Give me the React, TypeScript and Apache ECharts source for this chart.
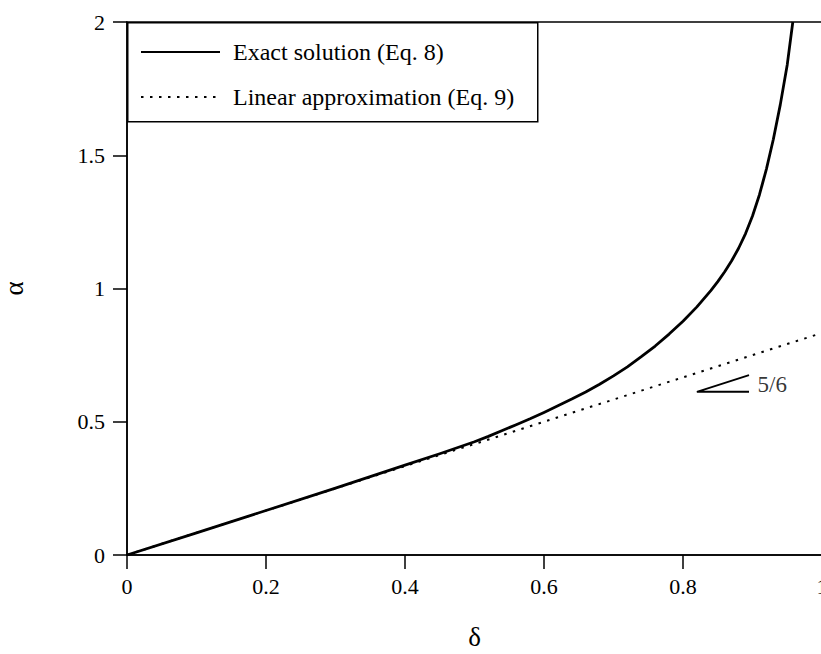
import React, { useEffect, useRef } from "react";
import * as echarts from "echarts";

// δ values and the exact solution α(δ) of Eq. 8
const exactDelta = [
  0, 0.1, 0.2, 0.3, 0.4, 0.45, 0.5, 0.52, 0.54, 0.56, 0.58, 0.6, 0.62, 0.64, 0.66, 0.68, 0.7,
  0.72, 0.74, 0.76, 0.78, 0.8, 0.82, 0.84, 0.85, 0.86, 0.87, 0.88, 0.89, 0.9, 0.91, 0.92, 0.93,
  0.94, 0.95, 0.958,
];
const exactAlpha = [
  0, 0.083, 0.167, 0.251, 0.337, 0.38, 0.425, 0.445, 0.467, 0.489, 0.511, 0.535, 0.56, 0.585,
  0.612, 0.641, 0.672, 0.706, 0.744, 0.784, 0.829, 0.877, 0.931, 0.992, 1.026, 1.063, 1.104,
  1.151, 1.206, 1.272, 1.352, 1.448, 1.56, 1.69, 1.84, 2.0,
];

// Linear approximation of Eq. 9: α = 5/6 δ
const linearDelta = [0, 1];
const linearAlpha = [0, 0.8333];

// Slope marker showing the 5/6 gradient
const slopeDelta = [0.895, 0.82, 0.895];
const slopeAlpha = [0.675, 0.6125, 0.6125];
const slopeLabel = "5/6";
const slopeLabelAt = [0.9, 0.64];

const xTicks = { min: 0, max: 1, interval: 0.2 };
const yTicks = { min: 0, max: 2, interval: 0.5 };

const seriesNames = ["Exact solution (Eq. 8)", "Linear approximation (Eq. 9)"];

const FONT = "Liberation Serif";

const zip = (xs: number[], ys: number[]) => xs.map((x, i) => [x, ys[i]]);

export default function App() {
  const ref = useRef<HTMLDivElement>(null);

  useEffect(() => {
    if (!ref.current) return;
    const chart = echarts.init(ref.current, undefined, { renderer: "svg" });
    chart.setOption({
      animation: false,
      backgroundColor: "#fff",
      textStyle: { fontFamily: FONT, color: "#000" },
      grid: {
        left: 127,
        right: -1,
        top: 22,
        bottom: 99,
        outerBoundsMode: "none",
        containLabel: false,
        show: true,
        borderColor: "#000",
        borderWidth: 1.5,
        backgroundColor: "transparent",
      },
      graphic: [
        {
          type: "rect",
          left: 127,
          top: 22,
          shape: { width: 410, height: 99 },
          style: { fill: "#fff", stroke: "#000", lineWidth: 1.5 },
          z: 5,
        },
      ],
      legend: {
        data: seriesNames,
        orient: "vertical",
        left: 140,
        top: 40,
        padding: 0,
        itemWidth: 79,
        itemHeight: 24,
        itemGap: 21,
        z: 10,
        itemStyle: { opacity: 0 },
        textStyle: {
          fontFamily: FONT,
          fontSize: 24,
          color: "#000",
          padding: [0, 0, 0, 8],
        },
        selectedMode: false,
      },
      xAxis: {
        type: "value",
        min: xTicks.min,
        max: xTicks.max,
        interval: xTicks.interval,
        name: "δ",
        nameLocation: "middle",
        nameGap: 68,
        nameTextStyle: { fontFamily: FONT, fontSize: 27, color: "#000" },
        axisLine: { lineStyle: { color: "#000", width: 1.5 } },
        axisTick: { inside: false, length: 14, lineStyle: { color: "#000", width: 1.5 } },
        axisLabel: { fontFamily: FONT, fontSize: 22, color: "#000", margin: 20 },
        splitLine: { show: false },
      },
      yAxis: {
        type: "value",
        min: yTicks.min,
        max: yTicks.max,
        interval: yTicks.interval,
        name: "α",
        nameLocation: "middle",
        nameGap: 100,
        nameRotate: 90,
        nameTextStyle: { fontFamily: FONT, fontSize: 27, color: "#000" },
        axisLine: { lineStyle: { color: "#000", width: 1.5 } },
        axisTick: { inside: false, length: 14, lineStyle: { color: "#000", width: 1.5 } },
        axisLabel: { fontFamily: FONT, fontSize: 22, color: "#000", margin: 22 },
        splitLine: { show: false },
      },
      series: [
        {
          name: seriesNames[0],
          type: "line",
          data: zip(exactDelta, exactAlpha),
          smooth: false,
          symbol: "none",
          clip: true,
          lineStyle: { color: "#000", width: 2.8, type: "solid", join: "round" },
          z: 3,
        },
        {
          name: seriesNames[1],
          type: "line",
          data: zip(linearDelta, linearAlpha),
          symbol: "none",
          lineStyle: { color: "#000", width: 2, type: [2.5, 6.5] },
          z: 2,
        },
        {
          name: "slope",
          type: "line",
          data: zip(slopeDelta, slopeAlpha),
          symbol: "none",
          silent: true,
          lineStyle: { color: "#000", width: 1.8 },
          z: 2,
        },
        {
          name: "slopeLabel",
          type: "scatter",
          data: [slopeLabelAt],
          symbolSize: 0,
          silent: true,
          label: {
            show: true,
            position: "right",
            distance: 5,
            formatter: slopeLabel,
            fontFamily: FONT,
            fontSize: 23,
            color: "#000",
          },
        },
      ],
    });
    return () => chart.dispose();
  }, []);

  return (
    <div
      ref={ref}
      style={{ position: "fixed", left: 0, top: 0, width: 821, height: 654, background: "#fff" }}
    />
  );
}
